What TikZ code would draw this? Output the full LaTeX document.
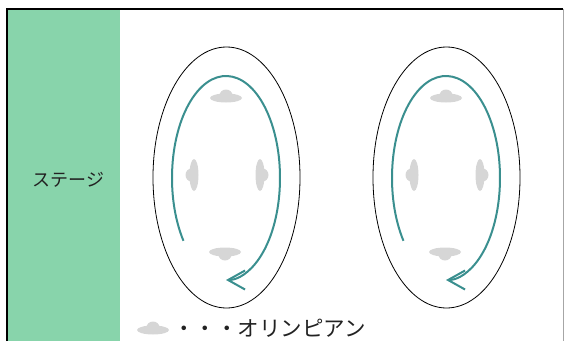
\documentclass[tikz,border=0pt]{standalone}
\usepackage{fontspec}
\newfontfamily\jpfont{Noto Sans CJK JP}
\usetikzlibrary{arrows.meta, positioning}

\definecolor{stagegreen}{RGB}{136,212,171}
\definecolor{laneteal}{RGB}{58,143,143}
\definecolor{olygray}{RGB}{214,214,214}
\definecolor{textgray}{RGB}{34,34,34}

\tikzset{
  track/.style={draw=black, line width=0.8pt},
  lane/.style={draw=laneteal, line width=2pt, -{Straight Barb[length=17pt, width=19pt]}},
  label/.style={text=textgray, inner sep=0pt, font=\jpfont\fontsize{18}{20}\selectfont},
  olympian/.pic={
    \fill[olygray] (0,0) ellipse [x radius=16, y radius=4.5];
    \fill[olygray] (0,2.5) ellipse [x radius=6.5, y radius=6];
  }
}

\begin{document}
\begin{tikzpicture}[x=1pt, y=1pt]
\useasboundingbox (0,0) rectangle (564,341);

% Stage strip
\fill[stagegreen] (8,0) rectangle (120,331);
\node[label] (stage) at (68.5,161) {ステージ};

% Frame
\draw[line width=2pt] (7,0) -- (7,332) -- (563,332);
\draw[gray!70, line width=0.8pt] (563,332) -- (563,0);

% Left rink
\coordinate (lc) at (226.5,163.5);
\draw[track] (lc) ellipse [x radius=73.5, y radius=130.5];
\draw[lane] (226,163) ++(218:54 and 102) arc [start angle=218, end angle=-90, x radius=54, y radius=102];
\pic (ltop) at (226,243) {olympian};
\pic[rotate=180] (lbot) at (225,89) {olympian};
\pic[rotate=90] (lleft) at (194,166) {olympian};
\pic[rotate=-90] (lright) at (260,166) {olympian};

% Right rink
\coordinate (rc) at (446.5,163.5);
\draw[track] (rc) ellipse [x radius=73.5, y radius=130.5];
\draw[lane] (446,163) ++(218:54 and 102) arc [start angle=218, end angle=-90, x radius=54, y radius=102];
\pic (rtop) at (446,243) {olympian};
\pic[rotate=180] (rbot) at (445,89) {olympian};
\pic[rotate=90] (rleft) at (414,166) {olympian};
\pic[rotate=-90] (rright) at (480,166) {olympian};

% Legend
\pic (key) at (153,11) {olympian};
\node[label, anchor=west, font=\jpfont\fontsize{21.5}{23}\selectfont] (legend) at (173,13) {・・・オリンピアン};
\end{tikzpicture}
\end{document}
